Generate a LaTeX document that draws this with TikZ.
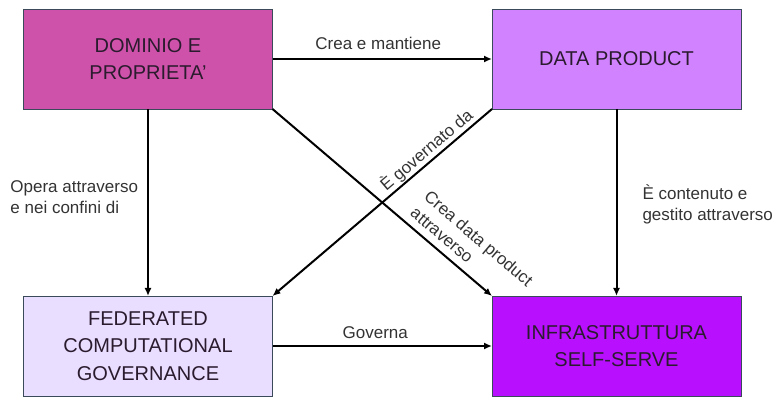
\documentclass[tikz,border=0pt]{standalone}
\usepackage{fontspec}
\setmainfont{Liberation Sans}
\usetikzlibrary{arrows.meta}

\definecolor{domfill}{HTML}{CF52AA}
\definecolor{dpfill}{HTML}{D082FF}
\definecolor{govfill}{HTML}{E9DEFF}
\definecolor{infrafill}{HTML}{B80FFF}
\definecolor{boxline}{HTML}{3B4A5A}
\definecolor{boxtext}{HTML}{2B1B2E}
\definecolor{labtext}{HTML}{333333}

\begin{document}
\begin{tikzpicture}[x=1pt,y=-1pt,
  block/.style={draw=boxline, line width=0.8pt, rectangle, inner sep=0pt, outer sep=0pt,
    minimum width=249pt, minimum height=100pt, align=center, text=boxtext,
    font=\fontsize{20}{27.5}\selectfont},
  arr/.style={-{Latex[length=8pt,width=7pt]}, line width=2pt, black},
  lab/.style={text=labtext, inner sep=0pt, outer sep=0pt,
    font=\fontsize{17}{21}\selectfont}
]
\useasboundingbox (0,0) rectangle (780,398);

% the four blocks
\node[block, fill=domfill]   (dom)   at (148,59)    {DOMINIO E\\PROPRIETA'};
\node[block, fill=dpfill]    (dp)    at (616.5,59)  {DATA PRODUCT};
\node[block, fill=govfill]   (gov)   at (148,346)   {FEDERATED\\COMPUTATIONAL\\GOVERNANCE};
\node[block, fill=infrafill] (infra) at (616.5,346) {INFRASTRUTTURA\\SELF-SERVE};

% horizontal links
\draw[arr] (dom.east) -- (dp.west)
  node[lab, midway, anchor=base, yshift=9pt, xshift=-4pt] (l1) {Crea e mantiene};
\draw[arr] (gov.east) -- (infra.west)
  node[lab, midway, anchor=base, yshift=7pt, xshift=-7pt] (l2) {Governa};

% vertical links
\draw[arr] (dom.south) -- (gov.north)
  node[lab, pos=0.47, anchor=east, xshift=-10pt, align=left] (l3) {Opera attraverso\\e nei confini di};
\draw[arr] (dp.south) -- (infra.north)
  node[lab, pos=0.51, anchor=west, xshift=26pt, align=left] (l4) {È contenuto e\\gestito attraverso};

% diagonal links
\draw[arr] (dp.south west) -- (gov.north east)
  node[lab, pos=0.265, sloped, anchor=south, outer ysep=2pt] (l5) {È governato da};
\draw[arr] (dom.south east) -- (infra.north west)
  node[lab, pos=0.6, sloped, anchor=south west, outer ysep=8pt, align=left] (l6) {Crea data product\\attraverso};
\end{tikzpicture}
\end{document}
